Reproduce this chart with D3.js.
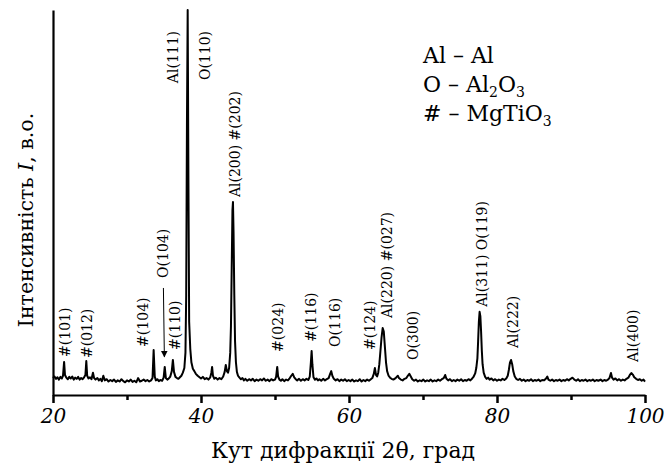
<!DOCTYPE html>
<html>
<head>
<meta charset="utf-8">
<script src="https://cdn.jsdelivr.net/npm/d3@7"></script>
<style>
  html, body { margin: 0; padding: 0; background: #fff; }
  svg { display: block; }
  text { font-family: "DejaVu Serif", "Liberation Serif", serif; fill: #000; }
</style>
</head>
<body>
<svg id="chart" width="664" height="466"></svg>
<script>
// ---- Data (2θ in degrees, intensity in arbitrary units) ----
const scan20to40 = [
  [20.00,44],[20.20,48],[20.40,42],[20.60,46],[20.80,40],[21.00,47],[21.20,43],[21.35,50],[21.50,86],[21.62,52],
  [21.80,45],[22.00,41],[22.20,47],[22.40,43],[22.60,48],[22.80,40],[23.00,45],[23.20,42],[23.40,47],[23.60,40],
  [23.80,44],[24.00,41],[24.20,46],[24.38,52],[24.50,88],[24.62,50],[24.80,43],[25.00,46],[25.20,41],[25.40,58],
  [25.55,44],[25.75,40],[26.00,44],[26.20,38],[26.40,42],[26.60,36],[26.80,50],[27.00,38],[27.25,41],[27.50,35],
  [27.75,39],[28.00,36],[28.25,40],[28.50,34],[28.75,38],[29.00,35],[29.25,41],[29.50,36],[29.75,33],[30.00,38],
  [30.25,35],[30.50,40],[30.75,34],[31.00,37],[31.25,33],[31.50,44],[31.75,35],[32.00,37],[32.25,40],[32.50,36],
  [32.75,39],[33.00,35],[33.25,38],[33.45,44],[33.60,117],[33.75,48],[33.90,38],[34.10,41],[34.30,36],[34.50,39],
  [34.75,37],[34.95,45],[35.10,73],[35.25,44],[35.45,40],[35.65,43],[35.85,48],[36.05,62],[36.20,91],[36.35,60],
  [36.55,47],[36.75,44],[36.95,42],[37.15,46],[37.35,50],[37.55,58],[37.75,70],[37.90,110],[38.00,260],[38.10,700],
  [38.20,1000],[38.30,560],[38.40,190],[38.55,120],[38.70,85],[38.90,68],[39.10,62],[39.30,55],[39.55,50],[39.80,46]
];
const scan40to60 = [
  [40.00,43],[40.25,47],[40.50,41],[40.75,44],[41.00,40],[41.25,46],[41.40,58],[41.50,73],[41.62,50],[41.80,42],
  [42.00,45],[42.25,40],[42.50,44],[42.75,41],[43.00,48],[43.20,60],[43.35,78],[43.50,62],[43.65,58],[43.80,70],
  [43.95,110],[44.05,180],[44.15,330],[44.25,480],[44.32,501],[44.40,420],[44.50,260],[44.60,140],[44.72,85],[44.85,60],
  [45.00,50],[45.20,45],[45.40,41],[45.60,44],[45.80,38],[46.00,42],[46.25,37],[46.50,41],[46.75,38],[47.00,42],
  [47.25,36],[47.50,40],[47.75,37],[48.00,41],[48.25,38],[48.50,43],[48.75,37],[49.00,40],[49.25,36],[49.50,41],
  [49.75,38],[50.00,40],[50.15,47],[50.30,73],[50.42,48],[50.60,40],[50.80,37],[51.00,41],[51.25,36],[51.50,40],
  [51.75,38],[52.00,44],[52.20,50],[52.40,55],[52.60,46],[52.80,41],[53.00,38],[53.25,42],[53.50,37],[53.75,41],
  [54.00,38],[54.25,42],[54.50,39],[54.70,48],[54.85,85],[54.95,114],[55.05,80],[55.20,46],[55.40,40],[55.60,43],
  [55.80,38],[56.00,41],[56.25,37],[56.50,42],[56.75,38],[57.00,41],[57.25,44],[57.45,55],[57.60,62],[57.75,50],
  [57.95,42],[58.20,38],[58.45,41],[58.70,36],[58.95,40],[59.20,37],[59.45,41],[59.70,36],[59.95,39]
];
const scan60to80 = [
  [60.20,36],[60.45,40],[60.70,35],[60.95,38],[61.20,36],[61.45,41],[61.70,35],[61.95,39],[62.20,36],[62.45,40],
  [62.70,37],[62.95,41],[63.15,44],[63.35,55],[63.50,70],[63.65,52],[63.80,48],[63.95,58],[64.10,80],[64.25,115],
  [64.40,150],[64.55,174],[64.70,165],[64.85,125],[65.00,85],[65.15,62],[65.35,50],[65.55,45],[65.75,42],[66.00,40],
  [66.25,43],[66.45,47],[66.60,50],[66.75,44],[67.00,40],[67.25,38],[67.50,42],[67.75,44],[67.95,50],[68.15,55],
  [68.35,48],[68.55,41],[68.80,37],[69.05,40],[69.30,35],[69.55,38],[69.80,36],[70.05,40],[70.30,35],[70.55,38],
  [70.80,36],[71.05,40],[71.30,35],[71.55,38],[71.80,36],[72.05,40],[72.30,37],[72.55,41],[72.80,44],[73.00,52],
  [73.15,43],[73.40,38],[73.65,41],[73.90,36],[74.15,39],[74.40,36],[74.65,40],[74.90,37],[75.15,41],[75.40,36],
  [75.65,39],[75.90,37],[76.15,41],[76.40,38],[76.65,43],[76.85,48],[77.05,56],[77.20,70],[77.35,95],[77.45,140],
  [77.55,190],[77.65,216],[77.75,205],[77.85,165],[77.95,115],[78.05,80],[78.20,58],[78.40,47],[78.60,42],[78.80,45],
  [79.00,40],[79.25,43],[79.50,38],[79.75,41]
];
const scan80to100 = [
  [80.00,37],[80.25,40],[80.50,38],[80.75,42],[81.00,39],[81.25,43],[81.45,50],[81.60,65],[81.75,84],[81.90,91],
  [82.05,80],[82.20,62],[82.40,48],[82.60,42],[82.85,39],[83.10,42],[83.35,37],[83.60,40],[83.85,36],[84.10,39],
  [84.35,37],[84.60,41],[84.85,36],[85.10,39],[85.35,37],[85.60,40],[85.85,36],[86.10,39],[86.35,38],[86.60,42],
  [86.80,48],[86.95,40],[87.20,37],[87.45,40],[87.70,36],[87.95,39],[88.20,37],[88.45,40],[88.70,36],[88.95,39],
  [89.20,37],[89.45,41],[89.70,38],[89.95,42],[90.20,45],[90.45,40],[90.70,37],[90.95,41],[91.20,36],[91.45,39],
  [91.70,37],[91.95,40],[92.20,36],[92.45,39],[92.70,37],[92.95,40],[93.20,36],[93.45,39],[93.70,37],[94.00,40],
  [94.25,36],[94.50,39],[94.75,37],[95.00,40],[95.20,44],[95.40,57],[95.55,45],[95.75,40],[96.00,43],[96.25,38],
  [96.50,41],[96.75,37],[97.00,40],[97.25,38],[97.50,42],[97.75,45],[97.95,52],[98.15,57],[98.35,53],[98.55,46],
  [98.80,42],[99.05,39],[99.30,41],[99.55,37],[99.80,40],[100.00,35]
];

// peak labels: text, 2θ of the label, intensity level where the label starts
const peakLabels = [
  ["#(101)", 21.6, 99], ["#(012)", 24.6, 96], ["#(104)", 32.2, 125], ["O(104)", 34.9, 304],
  ["#(110)", 36.5, 117], ["Al(111)", 36.2, 810], ["O(110)", 40.5, 818], ["Al(200) #(202)", 44.6, 514],
  ["#(024)", 50.4, 112], ["#(116)", 54.9, 138], ["O(116)", 58.1, 125], ["#(124)", 62.8, 117],
  ["Al(220) #(027)", 65.1, 200], ["O(300)", 68.6, 91], ["Al(311) O(119)", 78.0, 229],
  ["Al(222)", 82.2, 122], ["Al(400)", 98.4, 86]
];
// arrow pointing to O(104): [2θ, intensity] start and end
const arrowO104 = [[34.92, 278], [35.05, 99]];

const xMajorTicks = [20, 40, 60, 80, 100];
const xMinorTicks = [30, 50, 70, 90];

// legend rows: pieces of [text, isSubscript]
const legendRows = [
  [["Al – Al", false]],
  [["O – Al", false], ["2", true], ["O", false], ["3", true]],
  [["# – MgTiO", false], ["3", true]]
];

const xTitle = "Кут дифракції 2θ, град";
const yTitleMain = "Інтенсивність ";
const yTitleVar = "I";
const yTitleEnd = ", в.о.";

// ---- Drawing ----
const svg = d3.select("#chart");
const x = d3.scaleLinear().domain([20, 100]).range([53, 645]);
const y = d3.scaleLinear().domain([0, 1000]).range([395, 10]);

const pattern = [].concat(scan20to40, scan40to60, scan60to80, scan80to100);

const line = d3.line().x(d => x(d[0])).y(d => y(d[1]));
svg.append("path")
  .datum(pattern)
  .attr("d", line)
  .attr("fill", "none")
  .attr("stroke", "#000")
  .attr("stroke-width", 2)
  .attr("stroke-linejoin", "round");

// x axis
const gx = svg.append("g").attr("transform", `translate(0,${y(0)})`);
gx.call(d3.axisBottom(x).tickValues(xMajorTicks).tickSize(8).tickSizeOuter(0).tickFormat(d3.format("d")).tickPadding(6));
gx.select(".domain").attr("stroke-width", 2.2);
gx.selectAll(".tick line").attr("stroke-width", 2.5);
gx.selectAll(".tick text")
  .attr("font-family", "DejaVu Serif")
  .attr("font-style", "italic")
  .attr("font-size", 20)
  .attr("fill", "#000");

const gxm = svg.append("g").attr("transform", `translate(0,${y(0)})`);
gxm.call(d3.axisBottom(x).tickValues(xMinorTicks).tickSize(5).tickSizeOuter(0).tickFormat(""));
gxm.select(".domain").remove();
gxm.selectAll(".tick line").attr("stroke-width", 2.5);

// y axis (line only)
const gy = svg.append("g").attr("transform", `translate(${x(20)},0)`);
gy.call(d3.axisLeft(y).tickValues([]).tickSizeOuter(0));
gy.select(".domain").attr("stroke-width", 2.2);

// axis titles
svg.append("text")
  .attr("x", 343).attr("y", 458)
  .attr("text-anchor", "middle")
  .attr("font-size", 22)
  .text(xTitle);

const yt = svg.append("text")
  .attr("transform", "translate(33,220) rotate(-90)")
  .attr("text-anchor", "middle")
  .attr("font-size", 20.5);
yt.append("tspan").text(yTitleMain);
yt.append("tspan").attr("font-style", "italic").text(yTitleVar);
yt.append("tspan").text(yTitleEnd);

// peak labels
svg.append("g").selectAll("text")
  .data(peakLabels)
  .join("text")
  .attr("transform", d => `translate(${x(d[1])},${y(d[2])}) rotate(-90)`)
  .attr("dy", "0.36em")
  .attr("font-size", 14)
  .text(d => d[0]);

// arrow
const defs = svg.append("defs");
defs.append("marker")
  .attr("id", "arrowhead")
  .attr("viewBox", "0 0 10 10")
  .attr("refX", 9).attr("refY", 5)
  .attr("markerWidth", 7).attr("markerHeight", 7)
  .attr("markerUnits", "userSpaceOnUse")
  .attr("orient", "auto")
  .append("path").attr("d", "M0,0 L10,5 L0,10 z").attr("fill", "#000");
svg.append("line")
  .attr("x1", x(arrowO104[0][0])).attr("y1", y(arrowO104[0][1]))
  .attr("x2", x(arrowO104[1][0])).attr("y2", y(arrowO104[1][1]))
  .attr("stroke", "#000").attr("stroke-width", 1)
  .attr("marker-end", "url(#arrowhead)");

// legend
const legend = svg.append("g");
legendRows.forEach((row, i) => {
  const t = legend.append("text")
    .attr("x", 423).attr("y", 63 + i * 29)
    .attr("font-size", 22);
  row.forEach(([s, sub], j) => {
    const ts = t.append("tspan").text(s);
    if (sub) ts.attr("font-size", 14).attr("dy", 5);
    else if (j > 0) ts.attr("dy", -5);
  });
});
</script>
</body>
</html>
